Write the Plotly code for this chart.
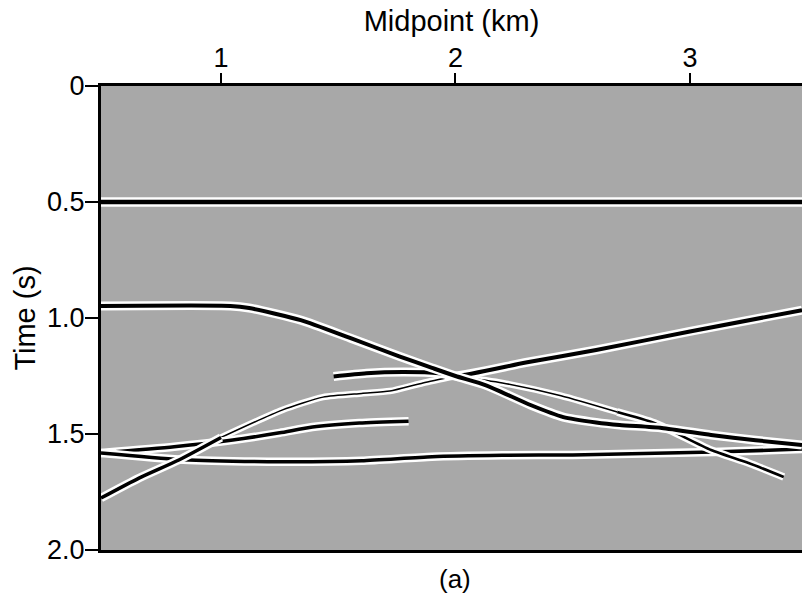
"""Zero-offset section: midpoint vs. two-way time"""

import plotly.graph_objects as go

# --- data (km, s) ---
flat_x = [0.488, 3.478]
flat_t = [0.50, 0.50]

syncline_x = [0.488, 1.04, 1.12, 1.34, 1.55, 1.76, 1.90, 2.00, 2.13, 2.32, 2.46, 2.60, 2.70, 2.88, 3.09, 3.28, 3.478]
syncline_t = [0.948, 0.948, 0.957, 1.009, 1.086, 1.165, 1.215, 1.25, 1.29, 1.375, 1.427, 1.450, 1.461, 1.474, 1.504, 1.527, 1.547]

dip_x = [1.48, 1.62, 1.78, 1.93, 2.00, 2.30, 2.60, 3.00, 3.478]
dip_t = [1.252, 1.238, 1.233, 1.238, 1.250, 1.192, 1.138, 1.058, 0.966]

rise_x = [0.488, 0.65, 0.82, 1.00]
rise_t = [1.776, 1.690, 1.612, 1.515]
rise_faint_x = [1.00, 1.26, 1.435, 1.60, 1.72, 1.861, 2.00]
rise_faint_t = [1.515, 1.397, 1.341, 1.325, 1.315, 1.280, 1.250]

fall_faint_x = [2.00, 2.20, 2.45, 2.69]
fall_faint_t = [1.250, 1.280, 1.335, 1.405]
fall_x = [2.69, 2.85, 3.09, 3.25, 3.40]
fall_t = [1.405, 1.453, 1.569, 1.625, 1.685]

lower_x = [0.488, 0.82, 1.10, 1.30, 1.60, 1.90, 2.20, 2.50, 3.10, 3.478]
lower_t = [1.582, 1.610, 1.618, 1.620, 1.615, 1.598, 1.592, 1.590, 1.578, 1.565]

upper_x = [0.488, 0.80, 1.05, 1.25, 1.39, 1.59, 1.80]
upper_t = [1.582, 1.555, 1.526, 1.495, 1.470, 1.453, 1.445]

FONT = dict(family="Liberation Sans, Arial, Helvetica, sans-serif", size=29, color="black")
TICKFONT = dict(FONT, size=27)
BG = "#a8a8a8"

fig = go.Figure()


def event(x, t, width):
    # white halo under a black event
    fig.add_trace(go.Scatter(
        x=x, y=t, mode="lines", hoverinfo="skip", showlegend=False,
        line=dict(color="white", width=width + 5, shape="spline", smoothing=0.6),
    ))
    fig.add_trace(go.Scatter(
        x=x, y=t, mode="lines", showlegend=False,
        line=dict(color="black", width=width, shape="spline", smoothing=0.6),
    ))


event(rise_faint_x, rise_faint_t, 1.5)
event(fall_faint_x, fall_faint_t, 1.6)
event(upper_x, upper_t, 3.5)
event(lower_x, lower_t, 3.5)
event(rise_x, rise_t, 3.5)
event(fall_x, fall_t, 2.6)
event(dip_x, dip_t, 4)
event(syncline_x, syncline_t, 4)
event(flat_x, flat_t, 4.5)

fig.add_annotation(
    text="(a)", x=2.0, xref="x", y=-0.062, yref="paper",
    xanchor="center", yanchor="middle", showarrow=False,
    font=dict(FONT, size=26),
)

fig.update_layout(
    width=802, height=598,
    font=FONT,
    paper_bgcolor="white",
    plot_bgcolor=BG,
    margin=dict(l=101, r=0, t=86, b=48),
    xaxis=dict(
        side="top",
        range=[0.488, 3.478],
        tickvals=[1, 2, 3],
        ticks="outside", ticklen=10, tickwidth=2, tickcolor="black",
        tickfont=TICKFONT, ticklabelstandoff=-5,
        showline=True, linewidth=3, linecolor="black", mirror=True,
        showgrid=False, zeroline=False, automargin=False,
        title=dict(text="Midpoint (km)", standoff=4, font=FONT),
    ),
    yaxis=dict(
        range=[2.0, 0],
        tickvals=[0, 0.5, 1.0, 1.5, 2.0],
        ticktext=["0", "0.5", "1.0", "1.5", "2.0"],
        ticks="outside", ticklen=13, tickwidth=2, tickcolor="black",
        tickfont=TICKFONT, ticklabelstandoff=-5,
        showline=True, linewidth=3, linecolor="black",
        showgrid=False, zeroline=False, automargin=False,
        title=dict(text="Time (s)", standoff=3, font=FONT),
    ),
)

# the page body has an 8px default margin; drop it so the figure sits at 0,0
fig.write_html(
    "out.html",
    config={"displayModeBar": False},
    post_script="document.body.style.margin='0';",
)
